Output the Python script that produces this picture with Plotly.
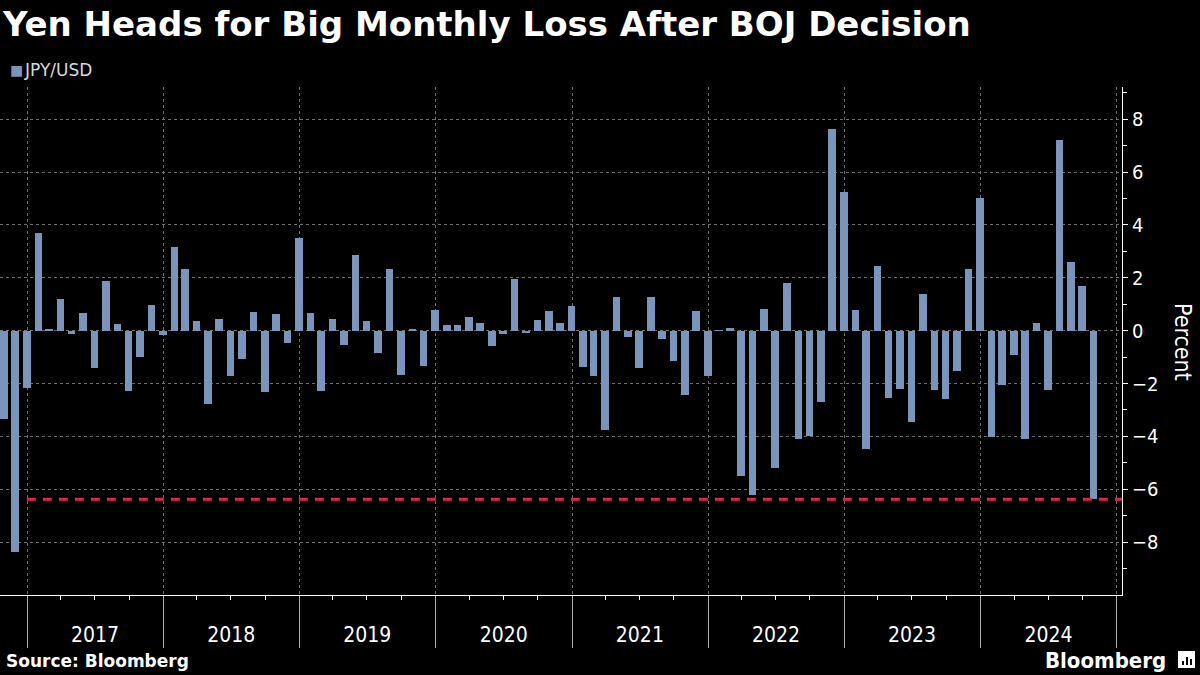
import pandas as pd
import plotly.graph_objects as go

# ---------------- data ----------------
start_month = "2016-11-01"   # month-end values: first bar is Oct 31 2016
end_month = "2024-11-01"     # last bar is Oct 31 2024
jpy_usd = [
    -3.33, -8.39, -2.15,
    3.68, 0.03, 1.20, -0.11, 0.67, -1.40, 1.88, 0.25, -2.27, -0.98, 0.97, -0.16,
    3.16, 2.33, 0.37, -2.79, 0.44, -1.70, -1.06, 0.71, -2.31, 0.63, -0.45, 3.50,
    0.67, -2.27, 0.44, -0.54, 2.86, 0.37, -0.83, 2.33, -1.66, 0.03, -1.32, 0.78,
    0.21, 0.21, 0.52, 0.29, -0.57, -0.11, 1.95, -0.08, 0.40, 0.74, 0.29, 0.93,
    -1.36, -1.70, -3.74, 1.27, -0.23, -1.40, 1.27, -0.30, -1.13, -2.42, 0.74, -1.70,
    0.02, 0.10, -5.48, -6.20, 0.82, -5.18, 1.80, -4.08, -3.99, -2.68, 7.65, 5.23,
    0.78, -4.46, 2.44, -2.53, -2.19, -3.44, 1.39, -2.23, -2.57, -1.51, 2.33, 5.02,
    -4.01, -2.04, -0.91, -4.08, 0.29, -2.23, 7.20, 2.60, 1.71, -6.38,
]
years = [2017, 2018, 2019, 2020, 2021, 2022, 2023, 2024]
y_ticks = [-8, -6, -4, -2, 0, 2, 4, 6, 8]
y_minor = [-9, -7, -5, -3, -1, 1, 3, 5, 7, 9]

dates = pd.date_range(start_month, end_month, freq="MS") - pd.Timedelta(days=1)
dates = dates[:len(jpy_usd)]

x_range = ["2016-10-20", "2025-01-15"]
year_mid = [f"{y}-07-02" for y in years]
year_bounds = [f"{y}-01-01" for y in years + [years[-1] + 1]]
quarters = [f"{y}-{m:02d}-01" for y in years for m in (4, 7, 10)]

BAR = "#7b94ba"
RED = "#e8243c"
GRID = "#6e6e6e"
COND = "DejaVu Sans Condensed, Liberation Sans Narrow, Arial Narrow, sans-serif"
WIDE = "DejaVu Sans, Verdana, sans-serif"

fig = go.Figure()
fig.add_trace(go.Bar(
    x=dates, y=jpy_usd, name="JPY/USD",
    marker=dict(color=BAR, line=dict(width=0)),
    width=20.5 * 86400000, showlegend=False,
))
fig.add_trace(go.Scatter(
    x=["2016-12-31", x_range[1]], y=[jpy_usd[-1], jpy_usd[-1]],
    mode="lines", line=dict(color=RED, width=3, dash="9px,7px"),
    xaxis="x2", showlegend=False, hoverinfo="skip",
))

fig.update_layout(
    width=1200, height=675,
    paper_bgcolor="black", plot_bgcolor="black",
    margin=dict(l=0, r=78, t=87, b=80),
    bargap=0,
    xaxis=dict(
        type="date", range=x_range,
        tickvals=year_mid, ticktext=[str(y) for y in years],
        ticks="outside", ticklen=21, tickcolor="rgba(0,0,0,0)",
        showgrid=False, zeroline=False,
        showline=True, linecolor="white", linewidth=1,
        tickfont=dict(family=COND, size=21, color="white"),
    ),
    xaxis2=dict(
        type="date", range=x_range, overlaying="x", anchor="y", side="bottom",
        tickvals=year_bounds, ticks="outside", ticklen=52, tickcolor="#aaaaaa",
        tickwidth=1, showticklabels=False,
        showgrid=True, gridcolor=GRID, griddash="dot", gridwidth=1,
        showline=False, zeroline=False,
        minor=dict(tickvals=quarters, ticks="outside", ticklen=4,
                   tickcolor="white", showgrid=False),
    ),
    yaxis=dict(
        side="right", range=[-10, 9.22],
        tickvals=y_ticks, ticks="outside", ticklen=5, tickcolor="white",
        showline=True, linecolor="white", linewidth=1,
        showgrid=True, gridcolor=GRID, griddash="dot", gridwidth=1,
        zeroline=False,
        tickfont=dict(family=COND, size=20, color="white"),
        minor=dict(tickvals=y_minor, ticks="outside", ticklen=4,
                   tickcolor="white", showgrid=False),
    ),
    showlegend=False,
)

fig.add_annotation(
    text="<b>Yen Heads for Big Monthly Loss After BOJ Decision</b>",
    xref="paper", yref="paper", x=0, y=(595 - 24) / 508,
    xanchor="left", yanchor="middle", showarrow=False,
    font=dict(family=WIDE, size=34, color="white"),
)
fig.add_annotation(
    text="■", xref="paper", yref="paper", x=8 / 1122, y=(595 - 70) / 508,
    xanchor="left", yanchor="middle", showarrow=False,
    font=dict(family=WIDE, size=14, color=BAR),
)
fig.add_annotation(
    text="JPY/USD",
    xref="paper", yref="paper", x=22 / 1122, y=(595 - 70) / 508,
    xanchor="left", yanchor="middle", showarrow=False,
    font=dict(family=WIDE, size=17, color="#d8d8d8"),
)
fig.add_annotation(
    text="Percent", textangle=90,
    xref="paper", yref="paper", x=1183 / 1122, y=(595 - 342) / 508,
    xanchor="center", yanchor="middle", showarrow=False,
    font=dict(family=COND, size=23, color="white"),
)
fig.add_annotation(
    text="<b>Source: Bloomberg</b>",
    xref="paper", yref="paper", x=4 / 1122, y=(595 - 661) / 508,
    xanchor="left", yanchor="middle", showarrow=False,
    font=dict(family=WIDE, size=17, color="white"),
)
fig.add_annotation(
    text="<b>Bloomberg</b>",
    xref="paper", yref="paper", x=1168 / 1122, y=(595 - 660) / 508,
    xanchor="right", yanchor="middle", showarrow=False,
    font=dict(family=COND, size=22, color="white"),
)
# small logo glyph: white rounded tile with three dark bars
fig.add_shape(type="rect", xref="paper", yref="paper",
              x0=1178 / 1122, x1=1195 / 1122,
              y0=(595 - 668) / 508, y1=(595 - 651) / 508,
              fillcolor="white", line=dict(width=0))
for bx, top in [(1182, 661), (1186, 657), (1190, 659)]:
    fig.add_shape(type="rect", xref="paper", yref="paper",
                  x0=bx / 1122, x1=(bx + 2) / 1122,
                  y0=(595 - 665) / 508, y1=(595 - top) / 508,
                  fillcolor="black", line=dict(width=0))

fig.write_html("out.html", config={"displayModeBar": False},
               post_script="document.body.style.margin='0';")
